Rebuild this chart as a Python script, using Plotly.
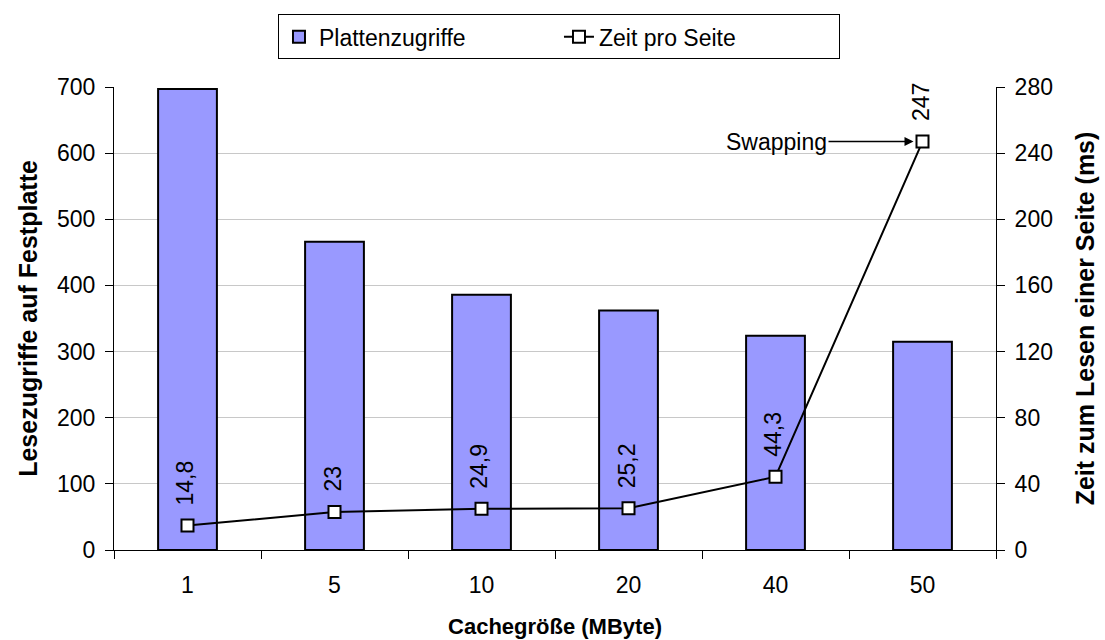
import plotly.graph_objects as go

categories = ["1", "5", "10", "20", "40", "50"]
plattenzugriffe = [697, 466, 386, 362, 324, 315]
zeit_pro_seite = [14.8, 23, 24.9, 25.2, 44.3, 247]
zeit_labels = ["14,8", "23", "24,9", "25,2", "44,3", "247"]
left_ticks = [0, 100, 200, 300, 400, 500, 600, 700]
right_ticks = [0, 40, 80, 120, 160, 200, 240, 280]

FONT = "Liberation Sans, Arial, sans-serif"

fig = go.Figure()
fig.add_trace(go.Bar(
    x=categories, y=plattenzugriffe, name="Plattenzugriffe",
    width=0.4,
    marker=dict(color="#9999ff", line=dict(color="black", width=2)),
))
fig.add_trace(go.Scatter(
    x=categories, y=zeit_pro_seite, name="Zeit pro Seite", yaxis="y2",
    mode="lines+markers",
    line=dict(color="black", width=2),
    marker=dict(symbol="square", size=12, color="white", line=dict(color="black", width=2)),
))

annotations = []
for i, (v, lab) in enumerate(zip(zeit_pro_seite, zeit_labels)):
    annotations.append(dict(
        x=i, y=v, xref="x", yref="y2", text=lab, showarrow=False,
        textangle=-90, yanchor="bottom", xanchor="center", yshift=18, xshift=-2,
        font=dict(family=FONT, size=23, color="black"),
    ))
annotations.append(dict(
    x=len(categories) - 1, y=zeit_pro_seite[-1], xref="x", yref="y2",
    text="Swapping", showarrow=True, ax=-146, ay=0,
    arrowhead=2, arrowsize=1.2, arrowwidth=1.5, arrowcolor="black", standoff=9,
    font=dict(family=FONT, size=23, color="black"),
))

fig.update_layout(
    width=1105, height=640,
    margin=dict(l=114, r=109, t=87, b=90),
    plot_bgcolor="white", paper_bgcolor="white",
    font=dict(family=FONT, size=23, color="black"),
    showlegend=True,
    legend=dict(
        orientation="h", x=0.5045, xanchor="center", y=1.157, yanchor="top",
        bordercolor="black", borderwidth=1, bgcolor="white",
        font=dict(family=FONT, size=23), entrywidth=235,
    ),
    xaxis=dict(
        type="category", categoryorder="array", categoryarray=categories,
        range=[-0.5, 5.5], automargin=False,
        tickson="boundaries", ticks="outside", ticklen=8, tickcolor="black",
        ticklabelstandoff=14,
        showline=True, linecolor="black", linewidth=1,
        showgrid=False,
        title=dict(text="<b>Cachegröße (MByte)</b>", font=dict(family=FONT, size=22), standoff=22),
    ),
    yaxis=dict(
        range=[0, 700], tickvals=left_ticks, ticks="outside", ticklen=8, tickcolor="black",
        ticklabelstandoff=5, automargin=False,
        showline=True, linecolor="black", linewidth=1,
        showgrid=True, gridcolor="#c8c8c8", gridwidth=1, zeroline=False,
        title=dict(text="<b>Lesezugriffe auf Festplatte</b>", font=dict(family=FONT, size=25), standoff=12),
    ),
    yaxis2=dict(
        range=[0, 280], tickvals=right_ticks, overlaying="y", side="right",
        ticks="outside", ticklen=8, tickcolor="black",
        ticklabelstandoff=5, automargin=False,
        showline=True, linecolor="black", linewidth=1,
        showgrid=False, zeroline=False,
        title=dict(text="<b>Zeit zum Lesen einer Seite (ms)</b>", font=dict(family=FONT, size=25), standoff=24),
    ),
    annotations=annotations,
)

fig.write_html("out.html")
